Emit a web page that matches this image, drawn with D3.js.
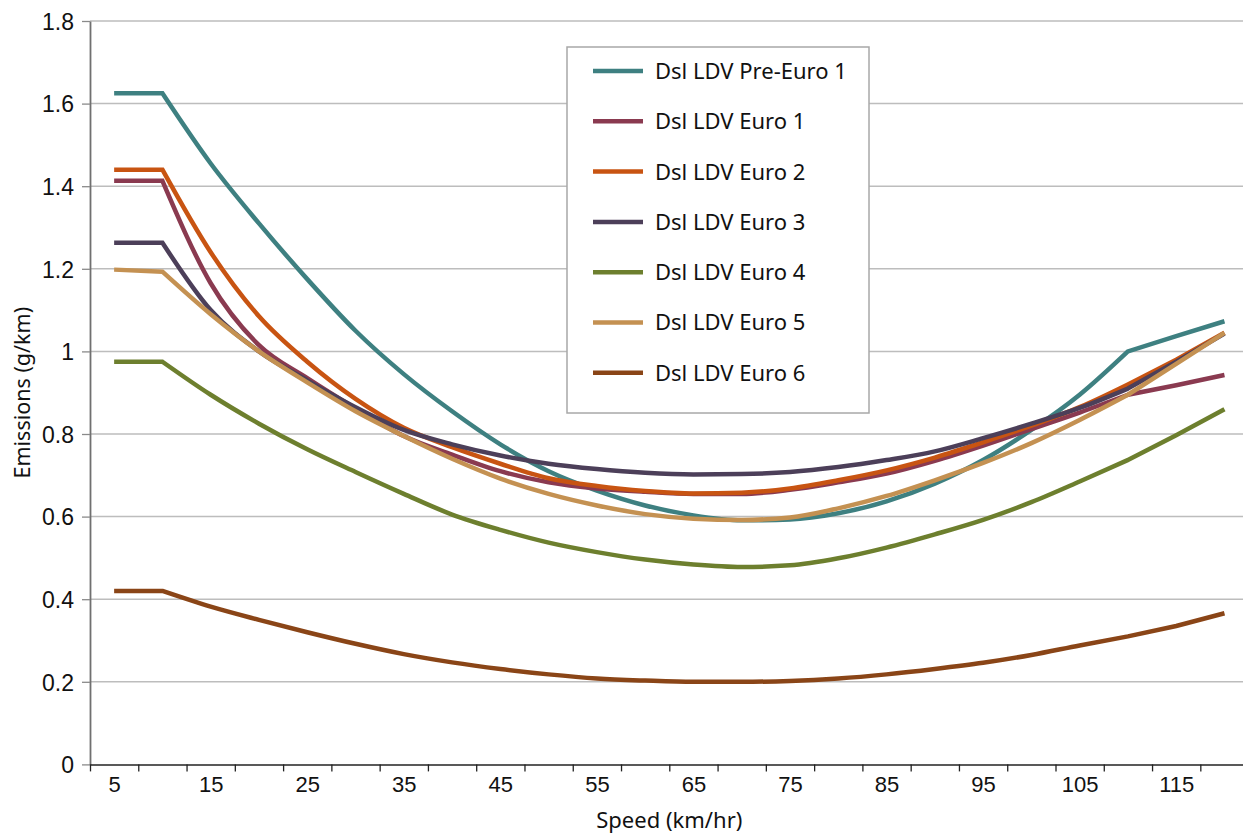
<!DOCTYPE html>
<html>
<head>
<meta charset="utf-8">
<script src="https://cdn.jsdelivr.net/npm/d3@7"></script>
<style>
  body { margin: 0; background: #ffffff; }
  svg { display: block; font-family: "Noto Sans", sans-serif; }
  .tick text { fill: #111111; }
</style>
</head>
<body>
<div id="chart"></div>
<script>
// data, g/km per speed step
const speeds = [5, 10, 15, 20, 25, 30, 35, 40, 45, 50, 55, 60, 65, 70, 75, 80, 85, 90, 95, 100, 105, 110, 115, 120];

const pre_euro_1 = [1.625, 1.625, 1.455, 1.31, 1.175, 1.05, 0.945, 0.855, 0.775, 0.71, 0.663, 0.627,
                    0.603, 0.591, 0.593, 0.608, 0.637, 0.68, 0.737, 0.81, 0.895, 1.0, 1.037, 1.073];
const euro_1 = [1.413, 1.413, 1.165, 1.015, 0.935, 0.862, 0.795, 0.75, 0.71, 0.683, 0.668, 0.66,
                0.655, 0.655, 0.665, 0.683, 0.704, 0.735, 0.772, 0.812, 0.852, 0.895, 0.918, 0.943];
const euro_2 = [1.44, 1.44, 1.24, 1.085, 0.975, 0.885, 0.815, 0.768, 0.728, 0.693, 0.674, 0.662,
                0.656, 0.658, 0.668, 0.688, 0.712, 0.743, 0.78, 0.82, 0.865, 0.92, 0.98, 1.045];
const euro_3 = [1.263, 1.263, 1.10, 1.0, 0.93, 0.865, 0.81, 0.775, 0.748, 0.728, 0.715, 0.706,
                0.702, 0.703, 0.708, 0.72, 0.737, 0.758, 0.79, 0.825, 0.863, 0.91, 0.975, 1.043];
const euro_4 = [0.975, 0.975, 0.895, 0.825, 0.763, 0.708, 0.655, 0.605, 0.568, 0.537, 0.514, 0.496,
                0.484, 0.478, 0.482, 0.499, 0.525, 0.557, 0.592, 0.635, 0.685, 0.737, 0.797, 0.86];
const euro_5 = [1.198, 1.193, 1.09, 1.0, 0.925, 0.855, 0.795, 0.74, 0.692, 0.655, 0.627, 0.606,
                0.595, 0.592, 0.598, 0.62, 0.65, 0.688, 0.73, 0.778, 0.834, 0.895, 0.97, 1.045];
const euro_6 = [0.42, 0.42, 0.382, 0.35, 0.32, 0.292, 0.267, 0.247, 0.231, 0.218, 0.208, 0.203,
                0.2, 0.2, 0.202, 0.208, 0.218, 0.231, 0.246, 0.265, 0.288, 0.31, 0.335, 0.366];

const series_names = ["Dsl LDV Pre-Euro 1", "Dsl LDV Euro 1", "Dsl LDV Euro 2", "Dsl LDV Euro 3",
                      "Dsl LDV Euro 4", "Dsl LDV Euro 5", "Dsl LDV Euro 6"];
const series_values = [pre_euro_1, euro_1, euro_2, euro_3, euro_4, euro_5, euro_6];
const series_colors = ["#3e8081", "#8a3a50", "#c85412", "#4c3f59", "#6d7f2e", "#c49152", "#8a4517"];

const x_labels = [5, 15, 25, 35, 45, 55, 65, 75, 85, 95, 105, 115];
const x_tick_marks = d3.range(2.5, 123, 5);
const y_ticks = [0, 0.2, 0.4, 0.6, 0.8, 1, 1.2, 1.4, 1.6, 1.8];

// speeds where the emission function is smooth (flat start, straight top end)
const smooth_from = 10, smooth_to = 110;

const chart = {
  width:  1243,
  height: 837,
  plot: {
    left:   90,
    right:  1248.6,
    top:    21,
    bottom: 764.4
  },
  legend: {
    x: 567, y: 47, width: 302, height: 366,
    first_row: 71, row_step: 50.3
  }
};

function create_svg(tag, dimensions) {
  return d3.select(tag)
    .append("svg")
      .attr("width", dimensions.width)
      .attr("height", dimensions.height);
}

// straight pieces outside [smooth_from, smooth_to], monotone curve inside
function series_path(values, x, y) {
  const points = values.map((v, i) => [x(speeds[i]), y(v)]);
  const i0 = speeds.indexOf(smooth_from),
        i1 = speeds.indexOf(smooth_to);
  const curve = d3.line().curve(d3.curveMonotoneX)(points.slice(i0, i1 + 1));
  const head = d3.line()(points.slice(0, i0 + 1));
  const tail = points.slice(i1 + 1).map((pt) => `L${pt[0]},${pt[1]}`).join("");
  return head + curve.replace(/^M[^LC]*/, "") + tail;
}

function draw_chart(svg, dimensions) {
  const p = dimensions.plot;
  const x = d3.scaleLinear().domain([2.5, 122.5]).range([p.left, p.right]);
  const y = d3.scaleLinear().domain([0, 1.8]).range([p.bottom, p.top]);

  // gridlines
  svg.append("g")
    .selectAll("line")
    .data(y_ticks.filter((d) => d > 0))
    .join("line")
      .attr("x1", p.left)
      .attr("x2", p.right)
      .attr("y1", (d) => y(d))
      .attr("y2", (d) => y(d))
      .attr("stroke", "#bdbdbd")
      .attr("stroke-width", 1.5);

  // y axis
  const y_axis = svg.append("g")
    .attr("transform", `translate(${p.left},0)`)
    .call(d3.axisLeft(y)
      .tickValues(y_ticks)
      .tickSize(8)
      .tickSizeOuter(0)
      .tickPadding(8)
      .tickFormat((d) => String(+d.toFixed(1))));
  y_axis.select(".domain").attr("stroke", "#707070").attr("stroke-width", 1.8);
  y_axis.selectAll(".tick line").attr("stroke", "#8a8a8a").attr("stroke-width", 1.3);
  y_axis.selectAll(".tick text").attr("font-size", 23).attr("dy", "0.36em");

  // x axis: marks between categories, labels on them
  const x_axis = svg.append("g")
    .attr("transform", `translate(0,${p.bottom})`)
    .call(d3.axisBottom(x)
      .tickValues(x_tick_marks)
      .tickSize(7)
      .tickSizeOuter(0)
      .tickFormat(""));
  x_axis.select(".domain").attr("stroke", "#222222").attr("stroke-width", 1.5);
  x_axis.selectAll(".tick line").attr("stroke", "#222222").attr("stroke-width", 1.3);

  const x_text = svg.append("g")
    .attr("transform", `translate(0,${p.bottom})`)
    .call(d3.axisBottom(x)
      .tickValues(x_labels)
      .tickSize(0)
      .tickPadding(12)
      .tickFormat((d) => d));
  x_text.select(".domain").remove();
  x_text.selectAll(".tick text").attr("font-size", 22).attr("dy", "0.71em");

  // series
  svg.append("g")
    .selectAll("path")
    .data(series_values)
    .join("path")
      .attr("d", (d) => series_path(d, x, y))
      .attr("fill", "none")
      .attr("stroke", (d, i) => series_colors[i])
      .attr("stroke-width", 4.5)
      .attr("stroke-linejoin", "miter");

  // axis titles
  svg.append("text")
    .attr("x", (p.left + p.right) / 2)
    .attr("y", 828)
    .attr("text-anchor", "middle")
    .attr("font-size", 22)
    .attr("fill", "#111")
    .text("Speed (km/hr)");

  svg.append("text")
    .attr("transform", `translate(30,${(p.top + p.bottom) / 2}) rotate(-90)`)
    .attr("text-anchor", "middle")
    .attr("font-size", 21.5)
    .attr("fill", "#111")
    .text("Emissions (g/km)");
}

function draw_legend(svg, dimensions) {
  const l = dimensions.legend;
  const g = svg.append("g");
  g.append("rect")
    .attr("x", l.x)
    .attr("y", l.y)
    .attr("width", l.width)
    .attr("height", l.height)
    .attr("fill", "#ffffff")
    .attr("stroke", "#a8a8a8")
    .attr("stroke-width", 1.5);

  const rows = g.selectAll("g.row")
    .data(series_names)
    .join("g")
      .attr("class", "row")
      .attr("transform", (d, i) => `translate(0,${l.first_row + i * l.row_step})`);
  rows.append("line")
    .attr("x1", 593)
    .attr("x2", 643)
    .attr("stroke", (d, i) => series_colors[i])
    .attr("stroke-width", 4.5);
  rows.append("text")
    .attr("x", 655)
    .attr("dy", "0.36em")
    .attr("font-size", 22)
    .attr("fill", "#111")
    .text((d) => d);
}

const svg = create_svg("#chart", chart);
draw_chart(svg, chart);
draw_legend(svg, chart);
</script>
</body>
</html>
